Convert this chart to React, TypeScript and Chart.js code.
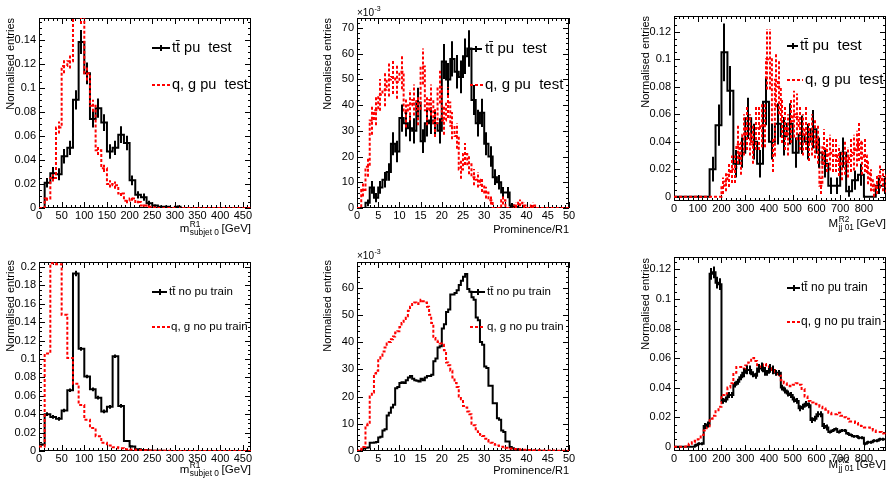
import React, { useEffect, useRef } from "react";
import { Chart, registerables } from "chart.js";

Chart.register(...registerables);

const FONT = "'Liberation Sans', Arial, Helvetica, sans-serif";

// ---------------- DATA ----------------
// Tick labels
const massTicks = [0, 50, 100, 150, 200, 250, 300, 350, 400, 450];
const promTicks = [0, 5, 10, 15, 20, 25, 30, 35, 40, 45, 50];
const mjjTicks = [0, 100, 200, 300, 400, 500, 600, 700, 800];
const aYTicks = [0, 0.02, 0.04, 0.06, 0.08, 0.1, 0.12, 0.14];
const bYTicks = [0, 10, 20, 30, 40, 50, 60, 70];
const cYTicks = [0, 0.02, 0.04, 0.06, 0.08, 0.1, 0.12];
const dYTicks = [0, 0.02, 0.04, 0.06, 0.08, 0.1, 0.12, 0.14, 0.16, 0.18, 0.2];
const eYTicks = [0, 10, 20, 30, 40, 50, 60];
const fYTicks = [0, 0.02, 0.04, 0.06, 0.08, 0.1, 0.12];

// Panel A (top-left): m^{R1}_{subjet 0}, pu test, 12.5 GeV bins starting at 0
const massBinStart = 0;
const massBinWidth = 12.5;
const aTtPu = [0, 0.021, 0.029, 0.028, 0.043, 0.050, 0.090, 0.138, 0.112, 0.074,
  0.083, 0.071, 0.047, 0.050, 0.061, 0.054, 0.023, 0.011, 0.009, 0.004,
  0.002, 0.001, 0.001, 0, 0.001, 0, 0, 0, 0, 0,
  0, 0, 0, 0, 0, 0, 0, 0];
const aTtPuErr = [0, 0.004, 0.005, 0.005, 0.006, 0.006, 0.008, 0.010, 0.009, 0.007,
  0.008, 0.007, 0.006, 0.006, 0.007, 0.006, 0.004, 0.003, 0.003, 0.002,
  0.001, 0.001, 0.001, 0, 0.001, 0, 0, 0, 0, 0,
  0, 0, 0, 0, 0, 0, 0, 0];
const aQgPu = [0, 0.008, 0.025, 0.067, 0.118, 0.122, 0.165, 0.160, 0.112, 0.085,
  0.048, 0.033, 0.020, 0.019, 0.012, 0.006, 0.008, 0.005, 0.002, 0.001,
  0.0005, 0, 0, 0, 0, 0, 0, 0, 0, 0,
  0, 0, 0, 0, 0, 0, 0, 0];
const aQgPuErr = [0, 0.002, 0.003, 0.005, 0.006, 0.006, 0.007, 0.007, 0.006, 0.005,
  0.004, 0.003, 0.003, 0.003, 0.002, 0.002, 0.002, 0.001, 0.001, 0.001,
  0.0005, 0, 0, 0, 0, 0, 0, 0, 0, 0,
  0, 0, 0, 0, 0, 0, 0, 0];

// Panel B (top-middle): Prominence/R1, pu test, bins of 1, values in units of 1e-3
const promBinStart = 0;
const promTestBinWidth = 1;
const bTtPu = [0, 0, 2, 8, 4, 8, 11, 14, 25, 22,
  35, 33, 31, 30, 41, 26, 33, 34, 33, 30,
  57, 50, 58, 53, 51, 59, 62, 42, 33, 37,
  25, 20, 12, 10, 6, 6, 1, 0.5, 0, 0,
  0, 0, 0, 0, 0, 0, 0, 0, 0, 0];
const bTtPuErr = [0, 0, 1.3, 2.5, 1.8, 2.5, 3, 3.4, 4.5, 4.2,
  5.3, 5.2, 5, 4.9, 5.8, 4.6, 5.2, 5.2, 5.2, 4.9,
  6.8, 6.4, 6.9, 6.5, 6.4, 6.9, 7.1, 5.8, 5.2, 5.5,
  4.5, 4, 3.1, 2.8, 2.2, 2.2, 0.9, 0.6, 0, 0,
  0, 0, 0, 0, 0, 0, 0, 0, 0, 0];
const bQgPu = [0, 7, 16, 34, 38, 44, 46, 50, 51, 49,
  53, 37, 40, 42, 38, 55, 38, 42, 33, 47,
  34, 41, 32, 28, 15, 21, 17, 12, 11, 9,
  6, 3, 0, 0, 3, 0, 0, 1, 2, 1,
  0, 1, 0, 0, 0, 0, 0, 0, 0, 0];
const bQgPuErr = [0, 2.5, 3.8, 5.5, 5.8, 6.2, 6.4, 6.6, 6.7, 6.5,
  6.8, 5.7, 5.9, 6, 5.8, 7, 5.8, 6, 5.4, 6.4,
  5.5, 6, 5.3, 5, 3.6, 4.3, 3.9, 3.2, 3, 2.8,
  2.3, 1.6, 0, 0, 1.6, 0, 0, 1, 1.3, 1,
  0, 1, 0, 0, 0, 0, 0, 0, 0, 0];

// Panel C (top-right): M^{R2}_{jj 01}, pu test
const mjjStart = 0;
const mjjTtBinWidth = 25;
const mjjFineBinWidth = 12.5;
const cTtPu = [0, 0, 0, 0, 0, 0, 0.020, 0.052, 0.105, 0.077,
  0.024, 0.032, 0.057, 0.040, 0.024, 0.069, 0.040, 0.053, 0.044, 0.053,
  0.032, 0.045, 0.040, 0.049, 0.032, 0.024, 0.008, 0.008, 0.032, 0.004,
  0.012, 0.016, 0, 0, 0.008, 0.008];
const cTtPuErr = [0, 0, 0, 0, 0, 0, 0.009, 0.015, 0.021, 0.018,
  0.010, 0.011, 0.015, 0.013, 0.010, 0.017, 0.013, 0.015, 0.014, 0.015,
  0.011, 0.014, 0.013, 0.014, 0.011, 0.010, 0.006, 0.006, 0.011, 0.004,
  0.007, 0.008, 0, 0, 0.006, 0.006];
const cQgPu = [0, 0, 0, 0, 0, 0, 0, 0, 0, 0,
  0, 0, 0, 0, 0, 0,
  0.008, 0.011, 0.016, 0.020, 0.020, 0.038, 0.028, 0.045, 0.050, 0.045,
  0.038, 0.050, 0.050, 0.052, 0.052, 0.100, 0.100, 0.030, 0.085, 0.080,
  0.055, 0.050, 0.045, 0.055, 0.060, 0.058, 0.050, 0.045, 0.050, 0.040,
  0.045, 0.042, 0.038, 0.008, 0.036, 0.030, 0.032, 0.030, 0.030, 0.026,
  0.023, 0.028, 0.025, 0.030, 0.032, 0.035, 0.040, 0.028, 0.030, 0.018,
  0.012, 0.005, 0.009, 0.015, 0.012, 0.010];
const cQgPuErr = [0, 0, 0, 0, 0, 0, 0, 0, 0, 0,
  0, 0, 0, 0, 0, 0,
  0.006, 0.007, 0.009, 0.010, 0.010, 0.014, 0.012, 0.015, 0.016, 0.015,
  0.014, 0.016, 0.016, 0.016, 0.016, 0.022, 0.022, 0.012, 0.020, 0.020,
  0.016, 0.016, 0.015, 0.016, 0.017, 0.017, 0.016, 0.015, 0.016, 0.014,
  0.015, 0.014, 0.014, 0.006, 0.013, 0.012, 0.013, 0.012, 0.012, 0.011,
  0.011, 0.012, 0.011, 0.012, 0.013, 0.013, 0.014, 0.012, 0.012, 0.009,
  0.008, 0.005, 0.007, 0.009, 0.008, 0.007];

// Panel D (bottom-left): m^{R1}_{subjet 0}, no pu train
const dTtNoPu = [0.007, 0.040, 0.037, 0.035, 0.044, 0.066, 0.193, 0.111, 0.081, 0.067,
  0.058, 0.043, 0.048, 0.103, 0.049, 0.011, 0.005, 0.002, 0.001, 0.0005,
  0.0003, 0.0002, 0.0001, 0.0001, 0, 0, 0, 0, 0, 0,
  0, 0, 0, 0, 0, 0, 0, 0];
const dTtNoPuErr = [0.001, 0.002, 0.002, 0.002, 0.002, 0.002, 0.003, 0.002, 0.002, 0.002,
  0.002, 0.002, 0.002, 0.002, 0.002, 0.001, 0.001, 0, 0, 0,
  0, 0, 0, 0, 0, 0, 0, 0, 0, 0,
  0, 0, 0, 0, 0, 0, 0, 0];
const dQgNoPu = [0.005, 0.106, 0.204, 0.203, 0.148, 0.101, 0.073, 0.050, 0.034, 0.025,
  0.016, 0.009, 0.006, 0.004, 0.003, 0.002, 0.0015, 0.001, 0.0008, 0.0005,
  0.0004, 0.0003, 0.0002, 0.0001, 0.0001, 0, 0, 0, 0, 0,
  0, 0, 0, 0, 0, 0, 0, 0];

// Panel E (bottom-middle): Prominence/R1, no pu train, bins of 0.5, units of 1e-3
const promTrainBinWidth = 0.5;
const eTtNoPu = [0, 0, 0.3, 1.0, 1.2, 1.3, 3.0, 3.0, 3.1, 3.3,
  5.0, 5.2, 7.5, 8.0, 13.0, 14.0, 16.0, 17.0, 23.0, 23.5,
  25.0, 25.2, 25.0, 26.0, 27.0, 27.5, 26.5, 26.0, 25.8, 25.5,
  26.5, 26.0, 27.0, 27.5, 27.5, 28.0, 33.0, 34.0, 38.0, 38.5,
  45.0, 46.5, 51.0, 52.0, 57.5, 57.5, 58.0, 59.0, 61.0, 62.5,
  64.0, 65.0, 59.5, 58.5, 56.5, 55.5, 49.0, 48.0, 40.0, 39.0,
  31.0, 30.5, 24.0, 24.0, 17.5, 17.5, 12.0, 11.5, 7.5, 7.0,
  3.5, 3.5, 1.5, 1.0, 0.7, 0.6, 0.4, 0.3, 0.25, 0.2,
  0.15, 0.1, 0.1, 0.1, 0.05, 0.05, 0.05, 0.03, 0.03, 0.03,
  0.02, 0.02, 0.02, 0.01, 0.01, 0.01, 0, 0, 0, 0];
const eQgNoPu = [0, 0.3, 0.8, 1.5, 9.5, 10, 20, 21.5, 28.5, 29.5,
  34, 35, 36.5, 38, 39.5, 40, 41, 42, 43.5, 44,
  45.5, 47, 48.5, 49.5, 51.5, 53, 54, 54.5, 54, 55,
  55.5, 55, 54.5, 53, 50, 47, 41.5, 40.5, 40, 39.5,
  39, 37, 32.5, 31.5, 29.5, 27, 25, 23.5, 20, 19,
  16.5, 16, 14.5, 13.5, 10, 9.5, 8, 7, 6, 5.5,
  4.5, 4, 3.5, 3, 2.6, 2.3, 2, 1.8, 1.6, 1.4,
  1.2, 1, 0.9, 0.8, 0.7, 0.6, 0.6, 0.5, 0.5, 0.5,
  0.4, 0.4, 0.4, 0.3, 0.3, 0.3, 0.3, 0.2, 0.2, 0.2,
  0.2, 0.15, 0.15, 0.1, 0.1, 0.1, 0.1, 0.05, 0.05, 0.05];

// Panel F (bottom-right): M^{R2}_{jj 01}, no pu train, 12.5 GeV bins
const fTtNoPu = [0, 0, 0, 0, 0, 0, 0, 0.001, 0.002, 0.002,
  0.014, 0.015, 0.117, 0.118, 0.111, 0.110, 0.031, 0.032, 0.035, 0.035,
  0.042, 0.044, 0.047, 0.050, 0.052, 0.052, 0.049, 0.048, 0.053, 0.054,
  0.051, 0.050, 0.053, 0.052, 0.050, 0.050, 0.040, 0.038, 0.036, 0.035,
  0.032, 0.031, 0.026, 0.027, 0.029, 0.028, 0.018, 0.019, 0.022, 0.022,
  0.014, 0.013, 0.010, 0.011, 0.012, 0.010, 0.011, 0.011, 0.009, 0.008,
  0.007, 0.007, 0.006, 0.006, 0.002, 0.003, 0.003, 0.004, 0.004, 0.005,
  0.005, 0.005];
const fTtNoPuErr = [0, 0, 0, 0, 0, 0, 0, 0.001, 0.001, 0.001,
  0.002, 0.002, 0.004, 0.004, 0.004, 0.004, 0.002, 0.002, 0.002, 0.002,
  0.002, 0.002, 0.002, 0.003, 0.003, 0.003, 0.002, 0.002, 0.003, 0.003,
  0.003, 0.002, 0.003, 0.003, 0.002, 0.002, 0.002, 0.002, 0.002, 0.002,
  0.002, 0.002, 0.002, 0.002, 0.002, 0.002, 0.002, 0.002, 0.002, 0.002,
  0.002, 0.002, 0.001, 0.001, 0.001, 0.001, 0.001, 0.001, 0.001, 0.001,
  0.001, 0.001, 0.001, 0.001, 0.001, 0.001, 0.001, 0.001, 0.001, 0.001,
  0.001, 0.001];
const fQgNoPu = [0, 0, 0, 0, 0.001, 0.002, 0.003, 0.004, 0.005, 0.008,
  0.011, 0.013, 0.019, 0.021, 0.024, 0.027, 0.035, 0.036, 0.040, 0.043,
  0.050, 0.054, 0.054, 0.053, 0.055, 0.057, 0.060, 0.058, 0.054, 0.055,
  0.056, 0.055, 0.054, 0.052, 0.049, 0.048, 0.045, 0.043, 0.042, 0.041,
  0.042, 0.043, 0.042, 0.039, 0.034, 0.031, 0.030, 0.029, 0.028, 0.027,
  0.026, 0.025, 0.023, 0.022, 0.022, 0.023, 0.021, 0.020, 0.019, 0.017,
  0.017, 0.016, 0.015, 0.014, 0.013, 0.013, 0.012, 0.011, 0.010, 0.010,
  0.009, 0.008];

// Text
const yTitle = "Normalised entries";
const ttPuTest = "t\u0074\u0304 pu  test";
const qgPuTest = "q, g pu  test";
const ttNoPuTrain = "t\u0074\u0304 no pu train";
const qgNoPuTrain = "q, g no pu train";

// ---------------- TYPES / HELPERS ----------------
type Seg = { t: string } | { sup: string; sub: string };
interface Series {
  start: number; width: number; values: number[]; errors?: number[];
  color: string; dash: number[]; order: number;
  legend: { x0: number; x1: number; tx: number; y: number; text: string; bar: boolean };
}
interface Axis { min: number; max: number; ticks: number[]; minor: number }
interface Panel {
  canvas: { left: number; top: number; width: number; height: number };
  area: { l: number; t: number; r: number; b: number };
  x: Axis;
  y: Axis;
  series: Series[];
  xTitle: Seg[]; xTitleBase: number; xTitleSize: number;
  yTitleX: number; yTitleTop: number;
  legendSize: number;
  exponent?: { x: number; y: number };
}

const BLACK = "#000000";
const RED = "#ff0000";
const DASH = [3, 2];

function stepPoints(s: Series) {
  const pts = s.values.map((v, i) => ({ x: s.start + i * s.width, y: v }));
  pts.push({ x: s.start + s.values.length * s.width, y: s.values[s.values.length - 1] });
  return pts;
}

function fmt(v: any) {
  const n = Math.round(Number(v) * 1e6) / 1e6;
  return String(n);
}

function drawRich(ctx: CanvasRenderingContext2D, segs: Seg[], rightX: number, base: number, size: number) {
  const small = Math.round(size * 0.72 * 10) / 10;
  const big = `${size}px ${FONT}`;
  const sm = `${small}px ${FONT}`;
  const widths = segs.map((s) => {
    if ("t" in s) { ctx.font = big; return ctx.measureText(s.t).width; }
    ctx.font = sm;
    return Math.max(ctx.measureText(s.sup).width, ctx.measureText(s.sub).width);
  });
  let x = rightX - widths.reduce((a, b) => a + b, 0);
  ctx.textAlign = "left";
  ctx.textBaseline = "alphabetic";
  ctx.fillStyle = "#000";
  segs.forEach((s, i) => {
    if ("t" in s) { ctx.font = big; ctx.fillText(s.t, x, base); }
    else {
      ctx.font = sm;
      ctx.fillText(s.sup, x + 0.5, base - size * 0.45);
      ctx.fillText(s.sub, x + 0.5, base + size * 0.28);
    }
    x += widths[i];
  });
}

function makePlugins(p: Panel) {
  const ox = p.canvas.left, oy = p.canvas.top;
  const frame = {
    id: "rootFrame",
    beforeDatasetsDraw(chart: any) {
      const ctx: CanvasRenderingContext2D = chart.ctx;
      const { left, right, top, bottom } = chart.chartArea;
      const xs = chart.scales.x, ys = chart.scales.y;
      ctx.save();
      ctx.strokeStyle = "#000";
      ctx.lineWidth = 1;
      ctx.setLineDash([]);
      ctx.strokeRect(left + 0.5, top + 0.5, right - left - 1, bottom - top - 1);
      const majX: number[] = xs.ticks.map((t: any) => t.value);
      const majY: number[] = ys.ticks.map((t: any) => t.value);
      const stepX = (majX[1] - majX[0]) / p.x.minor, stepY = (majY[1] - majY[0]) / p.y.minor;
      ctx.beginPath();
      for (let k = Math.ceil(p.x.min / stepX - 1e-9); k * stepX <= p.x.max + 1e-9; k++) {
        const v = k * stepX;
        const isMaj = majX.some((m) => Math.abs(m - v) < stepX / 10);
        const len = isMaj ? 6 : 3;
        const px = Math.round(xs.getPixelForValue(v)) + 0.5;
        ctx.moveTo(px, bottom); ctx.lineTo(px, bottom - len);
        ctx.moveTo(px, top); ctx.lineTo(px, top + len);
      }
      for (let k = Math.ceil(p.y.min / stepY - 1e-9); k * stepY <= p.y.max + 1e-9; k++) {
        const v = k * stepY;
        const isMaj = majY.some((m) => Math.abs(m - v) < stepY / 10);
        const len = isMaj ? 6 : 3;
        const py = Math.round(ys.getPixelForValue(v)) + 0.5;
        ctx.moveTo(left, py); ctx.lineTo(left + len, py);
        ctx.moveTo(right, py); ctx.lineTo(right - len, py);
      }
      ctx.stroke();
      ctx.restore();
    },
  };
  const errs = {
    id: "rootErrors",
    afterDatasetsDraw(chart: any) {
      const ctx: CanvasRenderingContext2D = chart.ctx;
      const { left, right, top, bottom } = chart.chartArea;
      const xs = chart.scales.x, ys = chart.scales.y;
      ctx.save();
      ctx.beginPath();
      ctx.rect(left, top, right - left, bottom - top);
      ctx.clip();
      p.series.forEach((s) => {
        if (!s.errors) return;
        ctx.strokeStyle = s.color;
        ctx.lineWidth = 2;
        ctx.setLineDash(s.dash);
        ctx.beginPath();
        s.values.forEach((v, i) => {
          const e = s.errors![i];
          if (!e) return;
          const cx = Math.round(xs.getPixelForValue(s.start + (i + 0.5) * s.width));
          ctx.moveTo(cx, ys.getPixelForValue(v - e));
          ctx.lineTo(cx, ys.getPixelForValue(v + e));
        });
        ctx.stroke();
      });
      ctx.restore();
    },
  };
  const texts = {
    id: "rootTexts",
    afterDraw(chart: any) {
      const ctx: CanvasRenderingContext2D = chart.ctx;
      ctx.save();
      ctx.fillStyle = "#000";
      // y title
      ctx.save();
      ctx.translate(p.yTitleX - ox, p.yTitleTop - oy);
      ctx.rotate(-Math.PI / 2);
      ctx.font = `11px ${FONT}`;
      ctx.textAlign = "right";
      ctx.textBaseline = "middle";
      ctx.fillText(yTitle, 0, 0);
      ctx.restore();
      // x title
      drawRich(ctx, p.xTitle, p.area.r - ox, p.xTitleBase - oy, p.xTitleSize);
      // exponent
      if (p.exponent) {
        ctx.font = `10px ${FONT}`;
        ctx.textAlign = "left";
        ctx.textBaseline = "alphabetic";
        const ex = p.exponent.x - ox, ey = p.exponent.y - oy;
        ctx.fillText("\u00d710", ex, ey);
        const w = ctx.measureText("\u00d710").width;
        ctx.font = `7px ${FONT}`;
        ctx.fillText("-3", ex + w + 0.5, ey - 5);
      }
      // legend
      p.series.forEach((s) => {
        const L = s.legend;
        ctx.strokeStyle = s.color;
        ctx.lineWidth = 2;
        ctx.setLineDash(s.dash);
        ctx.beginPath();
        ctx.moveTo(L.x0 - ox, L.y - oy);
        ctx.lineTo(L.x1 - ox, L.y - oy);
        if (L.bar) {
          const mx = Math.round((L.x0 + L.x1) / 2) - ox;
          ctx.moveTo(mx, L.y - oy - 3);
          ctx.lineTo(mx, L.y - oy + 3);
        }
        ctx.stroke();
        ctx.setLineDash([]);
        ctx.fillStyle = "#000";
        ctx.font = `${p.legendSize}px ${FONT}`;
        ctx.textAlign = "left";
        ctx.textBaseline = "middle";
        ctx.fillText(L.text, L.tx - ox, L.y - oy);
      });
      ctx.restore();
    },
  };
  return [frame, errs, texts];
}

// ---------------- PANELS ----------------
const massTitle: Seg[] = [{ t: "m" }, { sup: "R1", sub: "subjet 0" }, { t: " [GeV]" }];
const promTitle: Seg[] = [{ t: "Prominence/R1" }];
const mjjTitle: Seg[] = [{ t: "M" }, { sup: "R2", sub: "jj 01" }, { t: " [GeV]" }];

const panels: Panel[] = [
  {
    canvas: { left: 0, top: 0, width: 296, height: 239 },
    area: { l: 39, t: 18, r: 251, b: 208 },
    x: { min: 0, max: 468, ticks: massTicks, minor: 5 },
    y: { min: 0, max: 0.158, ticks: aYTicks, minor: 4 },
    series: [
      { start: massBinStart, width: massBinWidth, values: aTtPu, errors: aTtPuErr, color: BLACK, dash: [], order: 1,
        legend: { x0: 152, x1: 170, tx: 172, y: 48, text: ttPuTest, bar: true } },
      { start: massBinStart, width: massBinWidth, values: aQgPu, errors: aQgPuErr, color: RED, dash: DASH, order: 0,
        legend: { x0: 152, x1: 170, tx: 172, y: 85, text: qgPuTest, bar: false } },
    ],
    xTitle: massTitle, xTitleBase: 232, xTitleSize: 11.5, yTitleX: 11, yTitleTop: 18, legendSize: 14.5,
  },
  {
    canvas: { left: 296, top: 0, width: 296, height: 239 },
    area: { l: 357, t: 18, r: 569, b: 208 },
    x: { min: 0, max: 50, ticks: promTicks, minor: 5 },
    y: { min: 0, max: 73.9, ticks: bYTicks, minor: 5 },
    series: [
      { start: promBinStart, width: promTestBinWidth, values: bTtPu, errors: bTtPuErr, color: BLACK, dash: [], order: 1,
        legend: { x0: 470, x1: 482, tx: 485, y: 49, text: ttPuTest, bar: true } },
      { start: promBinStart, width: promTestBinWidth, values: bQgPu, errors: bQgPuErr, color: RED, dash: DASH, order: 0,
        legend: { x0: 470, x1: 483, tx: 485, y: 85, text: qgPuTest, bar: false } },
    ],
    xTitle: promTitle, xTitleBase: 233, xTitleSize: 11, yTitleX: 328, yTitleTop: 18, legendSize: 15,
    exponent: { x: 357, y: 16 },
  },
  {
    canvas: { left: 592, top: 0, width: 297, height: 239 },
    area: { l: 674, t: 16, r: 886, b: 201 },
    x: { min: 0, max: 893, ticks: mjjTicks, minor: 5 },
    y: { min: -0.0031, max: 0.1314, ticks: cYTicks, minor: 4 },
    series: [
      { start: mjjStart, width: mjjTtBinWidth, values: cTtPu, errors: cTtPuErr, color: BLACK, dash: [], order: 1,
        legend: { x0: 787, x1: 798, tx: 800, y: 46, text: ttPuTest, bar: true } },
      { start: mjjStart, width: mjjFineBinWidth, values: cQgPu, errors: cQgPuErr, color: RED, dash: DASH, order: 0,
        legend: { x0: 787, x1: 803, tx: 805, y: 80, text: qgPuTest, bar: false } },
    ],
    xTitle: mjjTitle, xTitleBase: 227, xTitleSize: 11.5, yTitleX: 646, yTitleTop: 16, legendSize: 15,
  },
  {
    canvas: { left: 0, top: 239, width: 296, height: 239 },
    area: { l: 39, t: 262, r: 251, b: 451 },
    x: { min: 0, max: 468, ticks: massTicks, minor: 5 },
    y: { min: 0, max: 0.2054, ticks: dYTicks, minor: 4 },
    series: [
      { start: massBinStart, width: massBinWidth, values: dTtNoPu, errors: dTtNoPuErr, color: BLACK, dash: [], order: 1,
        legend: { x0: 152, x1: 167, tx: 169, y: 292, text: ttNoPuTrain, bar: true } },
      { start: massBinStart, width: massBinWidth, values: dQgNoPu, color: RED, dash: DASH, order: 0,
        legend: { x0: 152, x1: 170, tx: 171, y: 327, text: qgNoPuTrain, bar: false } },
    ],
    xTitle: massTitle, xTitleBase: 473, xTitleSize: 11.5, yTitleX: 11, yTitleTop: 260, legendSize: 11.5,
  },
  {
    canvas: { left: 296, top: 239, width: 296, height: 239 },
    area: { l: 357, t: 262, r: 569, b: 451 },
    x: { min: 0, max: 50, ticks: promTicks, minor: 5 },
    y: { min: 0, max: 69.4, ticks: eYTicks, minor: 5 },
    series: [
      { start: promBinStart, width: promTrainBinWidth, values: eTtNoPu, color: BLACK, dash: [], order: 1,
        legend: { x0: 470, x1: 485, tx: 487, y: 292, text: ttNoPuTrain, bar: true } },
      { start: promBinStart, width: promTrainBinWidth, values: eQgNoPu, color: RED, dash: DASH, order: 0,
        legend: { x0: 470, x1: 485, tx: 487, y: 327, text: qgNoPuTrain, bar: false } },
    ],
    xTitle: promTitle, xTitleBase: 474, xTitleSize: 11, yTitleX: 328, yTitleTop: 260, legendSize: 11.5,
    exponent: { x: 357, y: 259 },
  },
  {
    canvas: { left: 592, top: 239, width: 297, height: 239 },
    area: { l: 674, t: 257, r: 886, b: 451 },
    x: { min: 0, max: 893, ticks: mjjTicks, minor: 5 },
    y: { min: -0.0029, max: 0.1284, ticks: fYTicks, minor: 4 },
    series: [
      { start: mjjStart, width: mjjFineBinWidth, values: fTtNoPu, errors: fTtNoPuErr, color: BLACK, dash: [], order: 1,
        legend: { x0: 787, x1: 800, tx: 801, y: 288, text: ttNoPuTrain, bar: true } },
      { start: mjjStart, width: mjjFineBinWidth, values: fQgNoPu, color: RED, dash: DASH, order: 0,
        legend: { x0: 787, x1: 800, tx: 801, y: 322, text: qgNoPuTrain, bar: false } },
    ],
    xTitle: mjjTitle, xTitleBase: 468, xTitleSize: 11.5, yTitleX: 646, yTitleTop: 258, legendSize: 12,
  },
];

function PanelChart({ p }: { p: Panel }) {
  const ref = useRef<HTMLCanvasElement>(null);
  useEffect(() => {
    const c = ref.current;
    if (!c) return;
    const cv = p.canvas, a = p.area;
    const tickFont = { family: FONT, size: 11 };
    const chart = new Chart(c, {
      type: "line",
      data: {
        datasets: p.series.map((s) => ({
          data: stepPoints(s),
          borderColor: s.color,
          borderWidth: 2,
          borderDash: s.dash,
          stepped: true,
          pointRadius: 0,
          fill: false,
          tension: 0,
          order: s.order,
        })),
      },
      options: {
        responsive: false,
        animation: false,
        devicePixelRatio: 1,
        events: [],
        layout: { padding: { left: 0, top: a.t - cv.top, right: cv.left + cv.width - a.r, bottom: 0 } },
        plugins: { legend: { display: false }, tooltip: { enabled: false }, title: { display: false } },
        scales: {
          x: {
            type: "linear", min: p.x.min, max: p.x.max,
            afterBuildTicks: (s: any) => { s.ticks = p.x.ticks.map((v) => ({ value: v })); },
            afterFit: (s: any) => { s.height = cv.top + cv.height - a.b; },
            grid: { display: false, drawTicks: false },
            border: { display: false },
            ticks: { autoSkip: false, maxRotation: 0, minRotation: 0,
              padding: 1, color: "#000", font: tickFont, callback: fmt },
          },
          y: {
            type: "linear", min: p.y.min, max: p.y.max,
            afterBuildTicks: (s: any) => { s.ticks = p.y.ticks.map((v) => ({ value: v })); },
            afterFit: (s: any) => { s.width = a.l - cv.left; },
            grid: { display: false, drawTicks: false },
            border: { display: false },
            ticks: { autoSkip: false, padding: 3, color: "#000", font: tickFont, callback: fmt },
          },
        },
      } as any,
      plugins: makePlugins(p) as any,
    });
    return () => chart.destroy();
  }, [p]);
  const cv = p.canvas;
  return (
    <canvas
      ref={ref}
      width={cv.width}
      height={cv.height}
      style={{ position: "absolute", left: cv.left, top: cv.top, width: cv.width, height: cv.height }}
    />
  );
}

export default function App() {
  return (
    <div style={{ position: "absolute", left: 0, top: 0, width: 889, height: 478, background: "#fff", overflow: "hidden" }}>
      {panels.map((p, i) => (
        <PanelChart key={i} p={p} />
      ))}
    </div>
  );
}
